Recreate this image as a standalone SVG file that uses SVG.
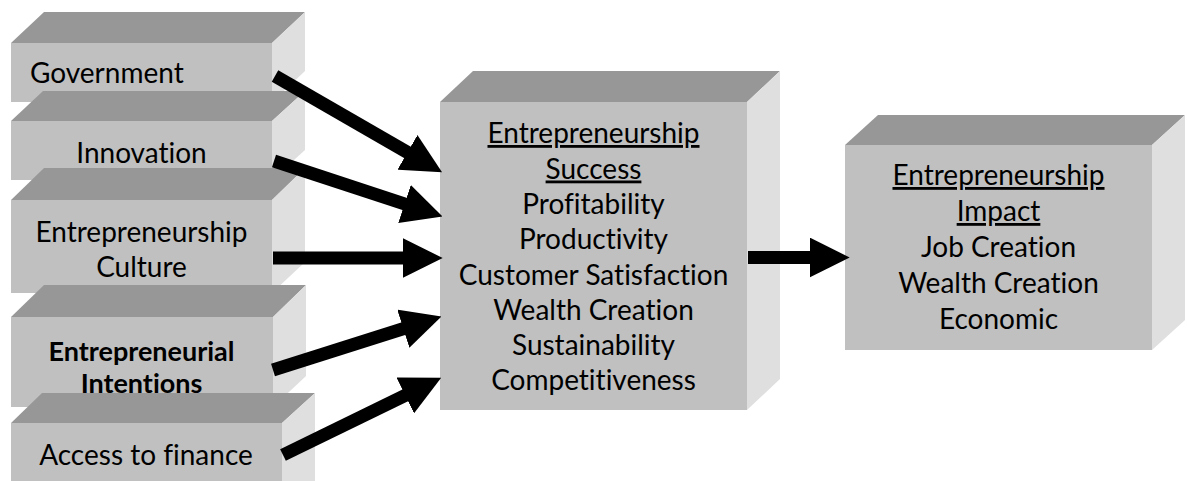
<svg xmlns="http://www.w3.org/2000/svg" width="1187" height="481" viewBox="0 0 1187 481">
  <defs>
    <style>
      .top { fill: #979797; }
      .front { fill: #c0c0c0; }
      .side { fill: #dfdfdf; }
      text { font-family: Lato, "Open Sans", "Liberation Sans", sans-serif; font-size: 28px; fill: #000; font-variant-ligatures: none; font-feature-settings: "liga" 0, "clig" 0; }
      .c { text-anchor: middle; }
      .b { font-weight: bold; font-size: 27px; }
      .u { text-decoration: underline; }
      .arrow { stroke: #000; stroke-width: 13; fill: none; marker-end: url(#head); }
    </style>
    <marker id="head" markerUnits="userSpaceOnUse" markerWidth="40" markerHeight="40" refX="2" refY="17.5" orient="auto" viewBox="0 0 35 35">
      <path d="M0,0 L35,17.5 L0,35 Z" fill="#000"/>
    </marker>
  </defs>

  <rect width="1187" height="481" fill="#fff"/>

  <!-- left column of cubes, drawn top to bottom so each overlaps the one above -->
  <g id="node-government">
    <polygon class="top" points="11,43 44,12 305,12 272,43"/>
    <polygon class="side" points="272,43 305,12 305,71 272,102"/>
    <rect class="front" x="11" y="43" width="261" height="59"/>
    <text x="30" y="83">Government</text>
  </g>

  <g id="node-innovation">
    <polygon class="top" points="11,121 43,91 305,91 272,121"/>
    <polygon class="side" points="272,121 305,91 305,150 272,180"/>
    <rect class="front" x="11" y="121" width="261" height="59"/>
    <text class="c" x="141.5" y="163">Innovation</text>
  </g>

  <g id="node-culture">
    <polygon class="top" points="11,200 44,168 305,168 272,200"/>
    <polygon class="side" points="272,200 305,168 305,262 272,293"/>
    <rect class="front" x="11" y="200" width="261" height="93"/>
    <text class="c" x="141.5" y="242">Entrepreneurship</text>
    <text class="c" x="141.5" y="277">Culture</text>
  </g>

  <g id="node-intentions">
    <polygon class="top" points="11,317 44,285 306,285 273,317"/>
    <polygon class="side" points="273,317 306,285 306,376 273,407"/>
    <rect class="front" x="11" y="317" width="262" height="90"/>
    <text class="c b" x="141.5" y="361">Entrepreneurial</text>
    <text class="c b" x="141.5" y="393">Intentions</text>
  </g>

  <g id="node-finance">
    <polygon class="top" points="11,423 42,393 315,393 282,423"/>
    <polygon class="side" points="282,423 315,393 315,481 282,481"/>
    <rect class="front" x="11" y="423" width="271" height="58"/>
    <text class="c" x="146" y="465">Access to finance</text>
  </g>

  <!-- central cube -->
  <g id="node-success">
    <polygon class="top" points="440,102 473,71 780,71 747,102"/>
    <polygon class="side" points="747,102 780,71 780,379 747,410"/>
    <rect class="front" x="440" y="102" width="307" height="308"/>
    <text class="c u" x="593.5" y="143">Entrepreneurship</text>
    <text class="c u" x="593.5" y="178.5">Success</text>
    <text class="c" x="593.5" y="214">Profitability</text>
    <text class="c" x="593.5" y="249">Productivity</text>
    <text class="c" x="593.5" y="284.5">Customer Satisfaction</text>
    <text class="c" x="593.5" y="320">Wealth Creation</text>
    <text class="c" x="593.5" y="355">Sustainability</text>
    <text class="c" x="593.5" y="390">Competitiveness</text>
  </g>

  <!-- right cube -->
  <g id="node-impact">
    <polygon class="top" points="845,145 878,115 1185,115 1152,145"/>
    <polygon class="side" points="1152,145 1185,115 1185,320 1152,350"/>
    <rect class="front" x="845" y="145" width="307" height="205"/>
    <text class="c u" x="998.5" y="185">Entrepreneurship</text>
    <text class="c u" x="998.5" y="221">Impact</text>
    <text class="c" x="998.5" y="257">Job Creation</text>
    <text class="c" x="998.5" y="293">Wealth Creation</text>
    <text class="c" x="998.5" y="329">Economic</text>
  </g>

  <!-- block arrows -->
  <g id="connectors">
    <line class="arrow" x1="275" y1="76" x2="409.4" y2="153.5"/>
    <line class="arrow" x1="274" y1="161" x2="406.7" y2="204.7"/>
    <line class="arrow" x1="273" y1="258" x2="405" y2="258"/>
    <line class="arrow" x1="273" y1="370" x2="405.5" y2="328"/>
    <line class="arrow" x1="283" y1="455" x2="407.3" y2="394.4"/>
    <line class="arrow" x1="748" y1="257.5" x2="812" y2="257.5"/>
  </g>
</svg>
